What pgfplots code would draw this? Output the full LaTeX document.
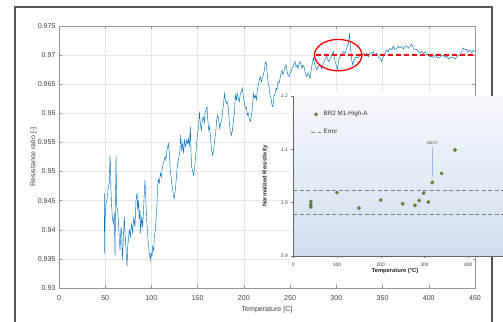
\documentclass[border=0pt]{standalone}
\usepackage{pgfplots}
\pgfplotsset{compat=1.18}
\usepackage{fontspec}
\setmainfont{Liberation Sans}
\usetikzlibrary{arrows.meta}
\definecolor{mblue}{RGB}{0,114,189}
\definecolor{gridc}{RGB}{230,230,230}
\definecolor{axc}{RGB}{150,150,150}
\definecolor{tickc}{RGB}{64,64,64}
\definecolor{framec}{RGB}{85,85,85}
\definecolor{dotfill}{RGB}{110,140,50}
\definecolor{dotdraw}{RGB}{75,100,30}
\definecolor{insetbg}{RGB}{208,222,240}
\definecolor{insettop}{RGB}{246,248,252}
\definecolor{errc}{RGB}{128,128,128}
\definecolor{arrc}{RGB}{150,185,230}
\pgfplotsset{
 dotlegend/.style={legend image code/.code={\draw[mark repeat=2,mark phase=2,##1] plot coordinates {(0bp,0bp) (5bp,0bp) (10bp,0bp)};}},
 dashlegend/.style={legend image code/.code={\draw[##1] (0bp,0bp) -- (10bp,0bp);}},
}

\pgfplotstableread{
T R
49.0 0.9463
49.3 0.9360
49.6 0.9411
50.8 0.9445
51.9 0.9451
53.4 0.9474
54.4 0.9480
55.2 0.9528
55.9 0.9497
56.2 0.9468
57.0 0.9440
57.7 0.9422
58.8 0.9411
59.9 0.9428
60.6 0.9354
61.3 0.9468
61.7 0.9528
62.4 0.9440
63.5 0.9434
64.2 0.9417
65.3 0.9382
66.0 0.9365
67.1 0.9405
67.8 0.9394
68.5 0.9348
69.6 0.9382
70.7 0.9422
71.4 0.9394
72.5 0.9365
73.6 0.9337
74.3 0.9371
75.0 0.9382
76.1 0.9400
77.2 0.9388
78.6 0.9411
79.7 0.9394
80.8 0.9422
82.2 0.9405
83.3 0.9451
84.4 0.9463
85.1 0.9434
85.8 0.9451
86.9 0.9417
87.6 0.9434
88.3 0.9394
89.4 0.9422
90.5 0.9405
91.6 0.9440
92.3 0.9463
93.0 0.9486
93.8 0.9457
94.8 0.9417
95.9 0.9394
96.6 0.9377
97.7 0.9360
98.8 0.9348
99.5 0.9360
100.6 0.9354
101.3 0.9371
102.4 0.9365
103.1 0.9388
104.2 0.9400
105.3 0.9428
106.0 0.9445
106.7 0.9474
107.5 0.9486
108.5 0.9480
109.6 0.9497
110.7 0.9491
111.8 0.9508
112.9 0.9514
114.0 0.9520
114.7 0.9526
115.7 0.9520
116.8 0.9537
118.3 0.9548
119.4 0.9531
120.1 0.9508
121.2 0.9491
121.9 0.9480
123.0 0.9469
124.0 0.9457
124.8 0.9454
126.2 0.9474
127.3 0.9497
128.4 0.9514
129.8 0.9526
130.9 0.9537
131.6 0.9563
132.7 0.9537
133.8 0.9548
134.9 0.9531
135.6 0.9554
137.0 0.9543
138.1 0.9554
139.2 0.9548
139.9 0.9557
141.0 0.9543
142.1 0.9577
142.8 0.9531
143.5 0.9508
144.6 0.9500
145.7 0.9494
146.8 0.9508
147.8 0.9526
148.9 0.9548
150.0 0.9566
151.1 0.9577
151.8 0.9603
152.9 0.9583
154.0 0.9571
155.1 0.9589
156.1 0.9594
157.2 0.9583
157.9 0.9600
159.0 0.9606
160.1 0.9611
160.8 0.9594
161.9 0.9571
163.0 0.9577
164.1 0.9554
165.1 0.9537
166.2 0.9528
167.3 0.9537
168.4 0.9554
169.5 0.9566
170.6 0.9589
171.6 0.9597
172.7 0.9591
173.8 0.9574
174.9 0.9583
176.0 0.9586
177.1 0.9606
178.1 0.9617
178.9 0.9634
179.9 0.9623
181.0 0.9617
182.1 0.9620
183.2 0.9609
184.3 0.9583
185.3 0.9570
186.4 0.9562
187.5 0.9570
188.6 0.9586
189.7 0.9600
190.8 0.9631
191.8 0.9623
192.9 0.9634
194.0 0.9626
195.1 0.9620
196.2 0.9634
197.3 0.9637
198.3 0.9643
199.4 0.9629
200.5 0.9617
201.6 0.9609
202.7 0.9611
203.7 0.9597
204.8 0.9600
205.9 0.9589
207.0 0.9586
208.1 0.9597
209.2 0.9609
210.2 0.9634
211.3 0.9626
212.4 0.9631
213.5 0.9623
214.6 0.9640
215.6 0.9649
216.7 0.9657
217.8 0.9663
218.9 0.9654
220.0 0.9660
221.1 0.9666
222.1 0.9674
223.2 0.9686
223.9 0.9689
225.0 0.9672
226.1 0.9654
227.2 0.9646
228.3 0.9631
229.3 0.9626
230.4 0.9614
231.5 0.9611
232.6 0.9629
233.7 0.9634
234.8 0.9643
235.8 0.9640
236.9 0.9654
238.0 0.9652
239.1 0.9660
240.2 0.9669
241.2 0.9674
242.3 0.9666
243.4 0.9672
244.5 0.9680
245.6 0.9683
246.7 0.9672
247.7 0.9666
248.8 0.9663
249.9 0.9669
251.0 0.9672
252.1 0.9677
253.1 0.9680
254.2 0.9686
255.3 0.9689
256.4 0.9680
257.5 0.9683
258.5 0.9677
259.6 0.9686
260.7 0.9689
261.8 0.9683
262.9 0.9677
264.0 0.9683
265.0 0.9680
266.1 0.9672
267.9 0.9663
269.7 0.9669
271.5 0.9660
273.3 0.9680
275.1 0.9695
276.9 0.9683
278.7 0.9675
280.5 0.9680
282.3 0.9683
284.1 0.9677
285.9 0.9686
287.7 0.9692
289.5 0.9700
291.3 0.9689
293.1 0.9692
294.9 0.9700
296.8 0.9706
298.6 0.9689
300.4 0.9680
301.4 0.9675
302.5 0.9692
304.0 0.9697
305.8 0.9700
307.6 0.9706
309.4 0.9703
311.2 0.9712
312.3 0.9717
313.3 0.9720
314.1 0.9738
314.8 0.9726
315.5 0.9709
316.6 0.9692
317.7 0.9683
318.7 0.9689
320.2 0.9695
322.0 0.9697
323.8 0.9695
325.6 0.9700
327.4 0.9697
329.2 0.9703
331.0 0.9700
332.8 0.9703
334.6 0.9697
336.4 0.9704
338.2 0.9703
340.0 0.9706
341.8 0.9700
343.6 0.9703
345.4 0.9697
347.2 0.9695
349.0 0.9689
350.8 0.9697
352.6 0.9703
354.4 0.9709
356.2 0.9706
358.1 0.9712
359.9 0.9709
361.7 0.9715
363.5 0.9709
365.3 0.9712
367.1 0.9715
368.9 0.9712
370.7 0.9715
372.5 0.9710
374.3 0.9715
376.1 0.9716
377.9 0.9712
379.7 0.9715
381.5 0.9719
383.3 0.9712
385.1 0.9709
386.9 0.9710
388.7 0.9706
390.5 0.9703
392.3 0.9706
394.1 0.9703
395.9 0.9706
397.7 0.9700
399.5 0.9702
401.3 0.9697
403.1 0.9698
404.9 0.9696
406.7 0.9700
408.5 0.9697
410.3 0.9695
412.1 0.9696
413.9 0.9699
415.8 0.9700
417.6 0.9696
419.4 0.9699
421.2 0.9693
423.0 0.9697
424.8 0.9695
426.6 0.9696
428.4 0.9693
430.2 0.9697
432.0 0.9699
433.8 0.9700
435.6 0.9706
437.4 0.9712
439.2 0.9709
441.0 0.9710
442.8 0.9706
444.6 0.9709
446.4 0.9704
448.2 0.9708
450.0 0.9706
}\ratiodata

\pgfplotstableread{
T N
40 1.002
40 0.996
40 0.992
100 1.019
150 0.990
200 1.005
250 0.998
278 0.995
288 1.004
298 1.018
308.6 1.001
317.7 1.038
339 1.055
369.6 1.099
}\insetdata

\begin{document}
\begin{tikzpicture}
\useasboundingbox (0,0) rectangle (503bp,322bp);
\clip (0,0) rectangle (503bp,322bp);
\draw[framec, line width=2.2bp] (15bp,-10bp) -- (15bp,315bp) -- (492bp,315bp) -- (492bp,-10bp);
\begin{axis}[
 at={(59bp,34bp)}, anchor=south west, scale only axis,
 width=416bp, height=262bp,
 xmin=0, xmax=450, ymin=0.93, ymax=0.975,
 xtick={0,50,...,450},
 ytick={0.93,0.935,0.94,0.945,0.95,0.955,0.96,0.965,0.97,0.975},
 scaled y ticks=false,
 yticklabel style={/pgf/number format/fixed, /pgf/number format/precision=3},
 /pgf/number format/assume math mode=true,
 tick label style={font=\fontsize{7.1}{8}\selectfont, text=tickc},
 xticklabel style={yshift=-4.5bp},
 grid=major, major grid style={gridc, line width=0.4bp},
 axis line style={axc, line width=0.5bp},
 tick style={axc, line width=0.5bp},
 tick align=inside, major tick length=3bp,
 xlabel={Temperature [C]}, ylabel={Resistance ratio [-]},
 label style={font=\fontsize{7.1}{8}\selectfont, text=tickc},
 xlabel style={at={(axis description cs:0.5,-0.0821)}, anchor=center},
 ylabel style={at={(axis description cs:-0.0613,0.5)}, anchor=center},
]
\addplot[mblue, line width=0.45bp] table[x=T, y=R] {\ratiodata};
\addplot[red, line width=1.8bp, dash pattern=on 5.5bp off 2.5bp] coordinates {(277.5,0.97) (450,0.97)};
\draw[red, line width=1.3bp] (axis cs:302,0.97) ellipse [x radius=23.7bp, y radius=15.7bp];
\end{axis}
\fill[white] (289.5bp,39bp) rectangle (473bp,230bp);
\begin{axis}[
 at={(293.3bp,66bp)}, anchor=south west, scale only axis,
 width=218.75bp, height=160bp,
 xmin=0, xmax=500, ymin=0.9, ymax=1.2,
 xtick={0,100,200,300,400}, ytick={0.9,1.0,1.1,1.2},
 yticklabel style={/pgf/number format/fixed, /pgf/number format/fixed zerofill, /pgf/number format/precision=1},
 /pgf/number format/assume math mode=true,
 tick label style={font=\fontsize{5}{6}\selectfont, text=tickc},
 xticklabel style={yshift=-1.5bp},
 axis x line*=bottom, axis y line*=left,
 axis line style={black!60, line width=0.6bp},
 tick style={black!50, line width=0.4bp},
 tick align=outside, major tick length=2bp,
 axis background/.style={top color=insettop, bottom color=insetbg},
 xlabel={\textbf{Temperature (°C)}}, ylabel={\textbf{Normalized Resistivity}},
 label style={font=\fontsize{5.8}{6.5}\selectfont, text=black!85},
 xlabel style={at={(axis description cs:0.465,-0.094)}, anchor=center},
 ylabel style={at={(axis description cs:-0.129,0.5)}, anchor=center},
 legend style={at={(0.065,0.93)}, anchor=north west, draw=none, fill=none,
   font=\fontsize{6.3}{7}\selectfont, text=black!80, row sep=8bp},
 legend cell align=left,
 clip=false,
]
\addplot[only marks, mark=*, mark size=1.7bp,
  mark options={fill=dotfill, draw=dotdraw, line width=0.3bp}, dotlegend]
  table[x=T, y=N] {\insetdata};
\addlegendentry{BR2 M1-High-A}
\addplot[errc, line width=0.9bp, dash pattern=on 4bp off 2.5bp, dashlegend]
  coordinates {(0,1.0225) (500,1.0225)};
\addlegendentry{Error}
\addplot[errc, line width=0.9bp, dash pattern=on 4bp off 2.5bp, forget plot]
  coordinates {(0,0.977) (500,0.977)};
\node[font=\fontsize{4}{4.5}\selectfont, text=tickc] at (axis cs:318,1.112) {320°C};
\draw[arrc, line width=0.7bp, -{Stealth[length=2.2bp, width=1.8bp]}] (axis cs:318,1.104) -- (axis cs:318,1.049);
\end{axis}
\end{tikzpicture}
\end{document}
